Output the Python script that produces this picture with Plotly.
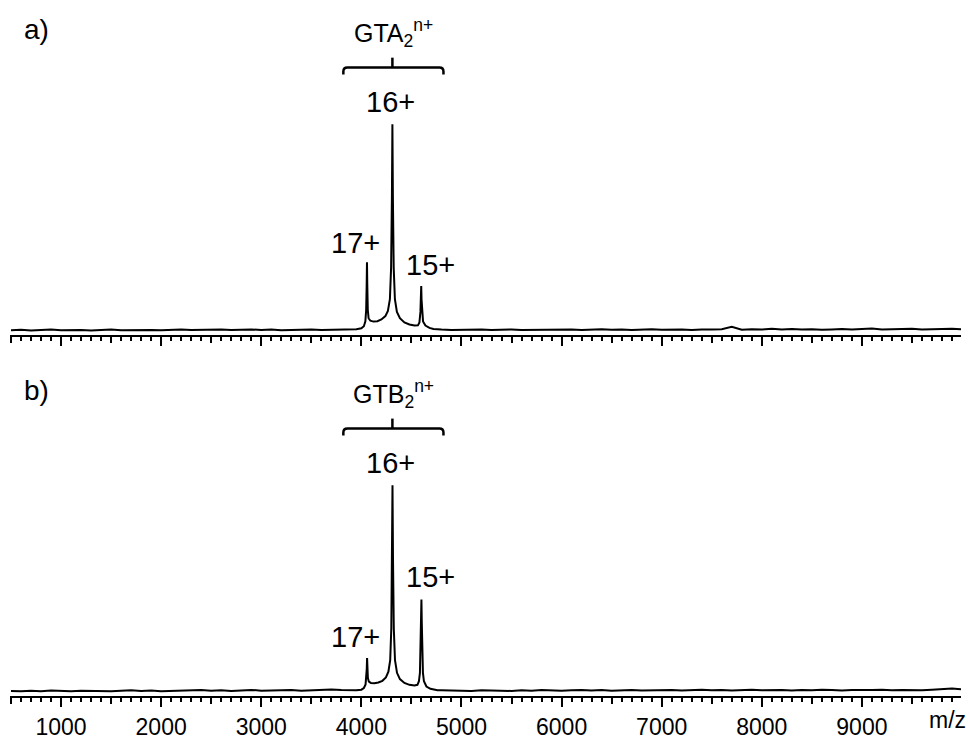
import plotly.graph_objects as go

# ---------------- data ----------------
# intensity in % of the 16+ peak
base_left_mz = list(range(500, 4000, 100))          # 500 ... 3900
base_right_mz = list(range(4800, 10000, 100)) + [9990]  # 4800 ... 9900, 9990

a_left = [2.3, 2.5, 2.2, 2.4, 2.6, 2.3, 2.5, 2.4, 2.2, 2.5,
          2.6, 2.3, 2.4, 2.6, 2.4, 2.3, 2.5, 2.7, 2.4, 2.5,
          2.3, 2.6, 2.4, 2.5, 2.7, 2.4, 2.6, 2.3, 2.5, 2.4,
          2.6, 2.4, 2.5, 2.7, 2.6]
a_peak_mz = [3950, 4000, 4025, 4040, 4048, 4053, 4056, 4059, 4064, 4072,
             4090, 4120, 4160, 4200, 4240, 4265, 4285, 4297, 4305, 4310,
             4315, 4323, 4335, 4355, 4385, 4430, 4480, 4530, 4565, 4580,
             4590, 4595, 4598, 4601, 4606, 4616, 4640, 4680, 4720, 4760]
a_peak_int = [2.8, 3.2, 4.2, 6.5, 12, 24, 34.5, 24, 12, 8,
              6.8, 6.4, 6.6, 7.4, 9, 11.5, 17, 32, 65, 100,
              65, 32, 17, 11, 8, 6, 5, 4.5, 4.6, 6,
              11, 17, 23.3, 17, 11, 6.5, 4.5, 3.4, 2.9, 2.7]
a_right = [2.6, 2.4, 2.5, 2.3, 2.6, 2.4, 2.5, 2.7, 2.4, 2.5,
           2.3, 2.6, 2.5, 2.7, 2.4, 2.6, 2.8, 2.5, 2.7, 2.4,
           2.6, 2.8, 2.5, 2.7, 2.6, 2.4, 2.7, 2.6, 2.8, 3.9,
           2.5, 2.8, 2.6, 3.0, 2.7, 2.9, 2.6, 2.8, 2.5, 2.7,
           2.9, 2.6, 2.8, 3.1, 2.7, 2.9, 2.8, 3.0, 2.7, 2.9,
           2.8, 3.0, 2.8]

b_left = [2.4, 2.2, 2.5, 2.3, 2.6, 2.4, 2.3, 2.5, 2.4, 2.6,
          2.3, 2.5, 2.7, 2.4, 2.6, 2.3, 2.5, 2.4, 2.6, 2.8,
          2.5, 2.7, 2.4, 2.6, 2.9, 2.5, 2.7, 2.6, 2.8, 2.5,
          2.7, 2.9, 3.1, 2.8, 2.7]
b_peak_mz = [3950, 4000, 4025, 4042, 4050, 4054, 4057, 4060, 4065, 4075,
             4095, 4130, 4170, 4210, 4245, 4270, 4288, 4299, 4306, 4311,
             4316, 4324, 4336, 4356, 4385, 4430, 4480, 4530, 4560, 4575,
             4585, 4592, 4597, 4600, 4603, 4608, 4615, 4625, 4650, 4690,
             4730, 4760]
b_peak_int = [2.7, 3.0, 3.8, 5.5, 9, 13, 18, 13, 8.5, 6.8,
              6.2, 6.1, 6.4, 7.2, 8.8, 11.5, 17, 32, 65, 100,
              65, 32, 17, 11, 8, 6.2, 5.3, 5.0, 5.3, 7,
              11, 22, 36, 45.8, 36, 22, 11, 7, 4.5, 3.4,
              2.9, 2.7]
b_right = [2.7, 2.5, 2.6, 2.4, 2.7, 2.5, 2.6, 2.4, 2.7, 2.5,
           2.8, 2.6, 2.5, 2.7, 2.9, 2.6, 2.8, 2.5, 2.7, 2.9,
           2.6, 2.8, 2.7, 2.9, 2.6, 2.8, 3.0, 2.7, 2.9, 2.6,
           2.8, 3.0, 2.7, 2.9, 2.8, 2.6, 2.9, 2.7, 3.0, 2.8,
           2.6, 2.9, 2.7, 2.8, 3.0, 2.7, 2.9, 2.8, 2.7, 3.0,
           3.3, 3.6, 3.2]

tick_vals = [1000, 2000, 3000, 4000, 5000, 6000, 7000, 8000, 9000]
tick_text = [str(v) for v in tick_vals]
half_ticks = [500, 1500, 2500, 3500, 4500, 5500, 6500, 7500, 8500, 9500]

peak_labels = ["17+", "16+", "15+"]
panel_tags = ["a)", "b)"]
complex_names = ["GTA<sub>2</sub><sup>n+</sup>", "GTB<sub>2</sub><sup>n+</sup>"]

X_RANGE = [490, 9990]
Y_RANGE = [0, 111.8]

# ---------------- figure ----------------
FONT = "Liberation Sans, Arial, sans-serif"
PH = 700.0  # plot-area height in px
def py(pix):
    return (PH - pix) / PH

fig = go.Figure()

a_mz = base_left_mz + a_peak_mz + base_right_mz
a_int = a_left + a_peak_int + a_right
b_mz = base_left_mz + b_peak_mz + base_right_mz
b_int = b_left + b_peak_int + b_right

fig.add_trace(go.Scatter(x=a_mz, y=a_int, mode="lines", xaxis="x2", yaxis="y2",
                         line=dict(color="black", width=2), hoverinfo="skip"))
fig.add_trace(go.Scatter(x=b_mz, y=b_int, mode="lines", xaxis="x", yaxis="y",
                         line=dict(color="black", width=2), hoverinfo="skip"))
# carriers for the overlay axes (half-thousand ticks)
fig.add_trace(go.Scatter(x=[X_RANGE[0]], y=[0], mode="lines", xaxis="x3", yaxis="y",
                         line=dict(width=0), hoverinfo="skip"))
fig.add_trace(go.Scatter(x=[X_RANGE[0]], y=[0], mode="lines", xaxis="x4", yaxis="y2",
                         line=dict(width=0), hoverinfo="skip"))

def main_axis(anchor, labels):
    return dict(anchor=anchor, range=X_RANGE, showline=True, linecolor="black", linewidth=2,
                ticks="outside", tickvals=tick_vals, ticktext=tick_text, ticklen=9,
                tickwidth=2, tickcolor="black", showticklabels=labels, showgrid=False,
                zeroline=False, tickfont=dict(family=FONT, size=23, color="black"),
                minor=dict(ticks="outside", tick0=0, dtick=100, ticklen=4, tickwidth=1.5,
                           tickcolor="black", showgrid=False))

def half_axis(anchor, over):
    return dict(anchor=anchor, overlaying=over, range=X_RANGE, showline=False,
                ticks="outside", tickvals=half_ticks, ticklen=7, tickwidth=1.5,
                tickcolor="black", showticklabels=False, showgrid=False, zeroline=False)

yax = dict(range=Y_RANGE, visible=False, showgrid=False, zeroline=False)

fig.update_layout(
    width=970, height=740,
    margin=dict(l=10, r=9, t=0, b=40),
    paper_bgcolor="white", plot_bgcolor="white",
    showlegend=False,
    xaxis=main_axis("y", True),
    xaxis2=main_axis("y2", False),
    xaxis3=half_axis("y", "x"),
    xaxis4=half_axis("y2", "x2"),
    yaxis=dict(domain=[0, py(463)], **yax),
    yaxis2=dict(domain=[py(337), py(100)], **yax),
)

ann = []
def txt(text, x, y_pix, size, xref="x"):
    ann.append(dict(text=text, x=x, y=py(y_pix), xref=xref, yref="paper",
                    showarrow=False, xanchor="center", yanchor="middle",
                    font=dict(family=FONT, size=size, color="black")))

for k, off in enumerate([0, 363]):
    txt(panel_tags[k], 0.0275, 30 + off, 28, xref="paper")
    txt(complex_names[k], 4320, 33 + off, 25)
    txt(peak_labels[1], 4290, 103 + off, 29)
txt(peak_labels[0], 3940, 244, 29)
txt(peak_labels[2], 4690, 267, 29)
txt(peak_labels[0], 3940, 641, 29)
txt(peak_labels[2], 4690, 580, 29)
txt("m/z", 9860, 724, 23)
fig.update_layout(annotations=ann)

shapes = []
for off in [0, 363]:
    yl, yh, ye = py(68 + off), py(58 + off), py(75 + off)
    path = (f"M 3820,{ye} L 3820,{py(72 + off)} Q 3820,{yl} 3860,{yl} "
            f"L 4780,{yl} Q 4820,{yl} 4820,{py(72 + off)} L 4820,{ye}")
    shapes.append(dict(type="path", path=path, xref="x", yref="paper",
                       line=dict(color="black", width=2.5)))
    shapes.append(dict(type="line", x0=4310, x1=4310, y0=yl, y1=yh, xref="x", yref="paper",
                       line=dict(color="black", width=2.5)))
fig.update_layout(shapes=shapes)

fig.write_html("out.html")
